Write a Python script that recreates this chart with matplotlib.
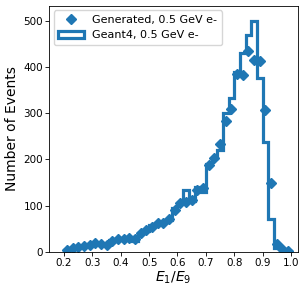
import matplotlib
matplotlib.use("Agg")
import matplotlib.pyplot as plt
import numpy as np

# bin edges of E1/E9, 0.02 wide
edges = np.round(np.arange(0.20, 1.001, 0.02), 2)
centers = (edges[:-1] + edges[1:]) / 2

# Geant4 histogram counts, one per bin
geant4 = [5, 8, 10, 12, 18, 20, 20, 14, 25, 28,
          30, 32, 24, 42, 45, 58, 62, 65, 70, 95,
          105, 135, 110, 140, 130, 190, 203, 221, 301, 333,
          390, 431, 470, 500, 377, 237, 71, 9, 4, 1]

# generated sample, counts at bin centres
generated = [4, 8, 10, 12, 16, 19, 18, 15, 24, 27,
             29, 30, 27, 40, 48, 55, 63, 62, 72, 90,
             105, 108, 112, 135, 138, 188, 203, 234, 283, 309,
             385, 383, 435, 416, 414, 307, 150, 18, 6, 2]

c = "#1f77b4"
fig = plt.figure(figsize=(3.01, 2.85), dpi=100)
ax = fig.add_axes([0.163, 0.116, 0.827, 0.863])

ln, = ax.plot(centers, generated, "D", color=c, ms=5.5, ls="none",
              label="Generated, 0.5 GeV e-")
_, _, pt = ax.hist(centers, bins=edges, weights=geant4, histtype="step",
                   color=c, lw=2.3, label="Geant4, 0.5 GeV e-")

ax.set_xlim(0.147, 1.025)
ax.set_ylim(0, 532)
ax.set_xticks(np.arange(0.2, 1.01, 0.1))
ax.set_yticks(range(0, 501, 100))
ax.tick_params(labelsize=7.5, length=2.6, width=0.6, pad=1.8)
for s in ax.spines.values():
    s.set_linewidth(0.6)
ax.set_xlabel("$E_1/E_9$", fontsize=10, labelpad=1)
ax.set_ylabel("Number of Events", fontsize=10, labelpad=3)
ax.legend(handles=[ln, pt[0]], loc="upper left", fontsize=8,
          handlelength=2.3, borderaxespad=0.4)

fig.savefig("out.png", dpi=100)
